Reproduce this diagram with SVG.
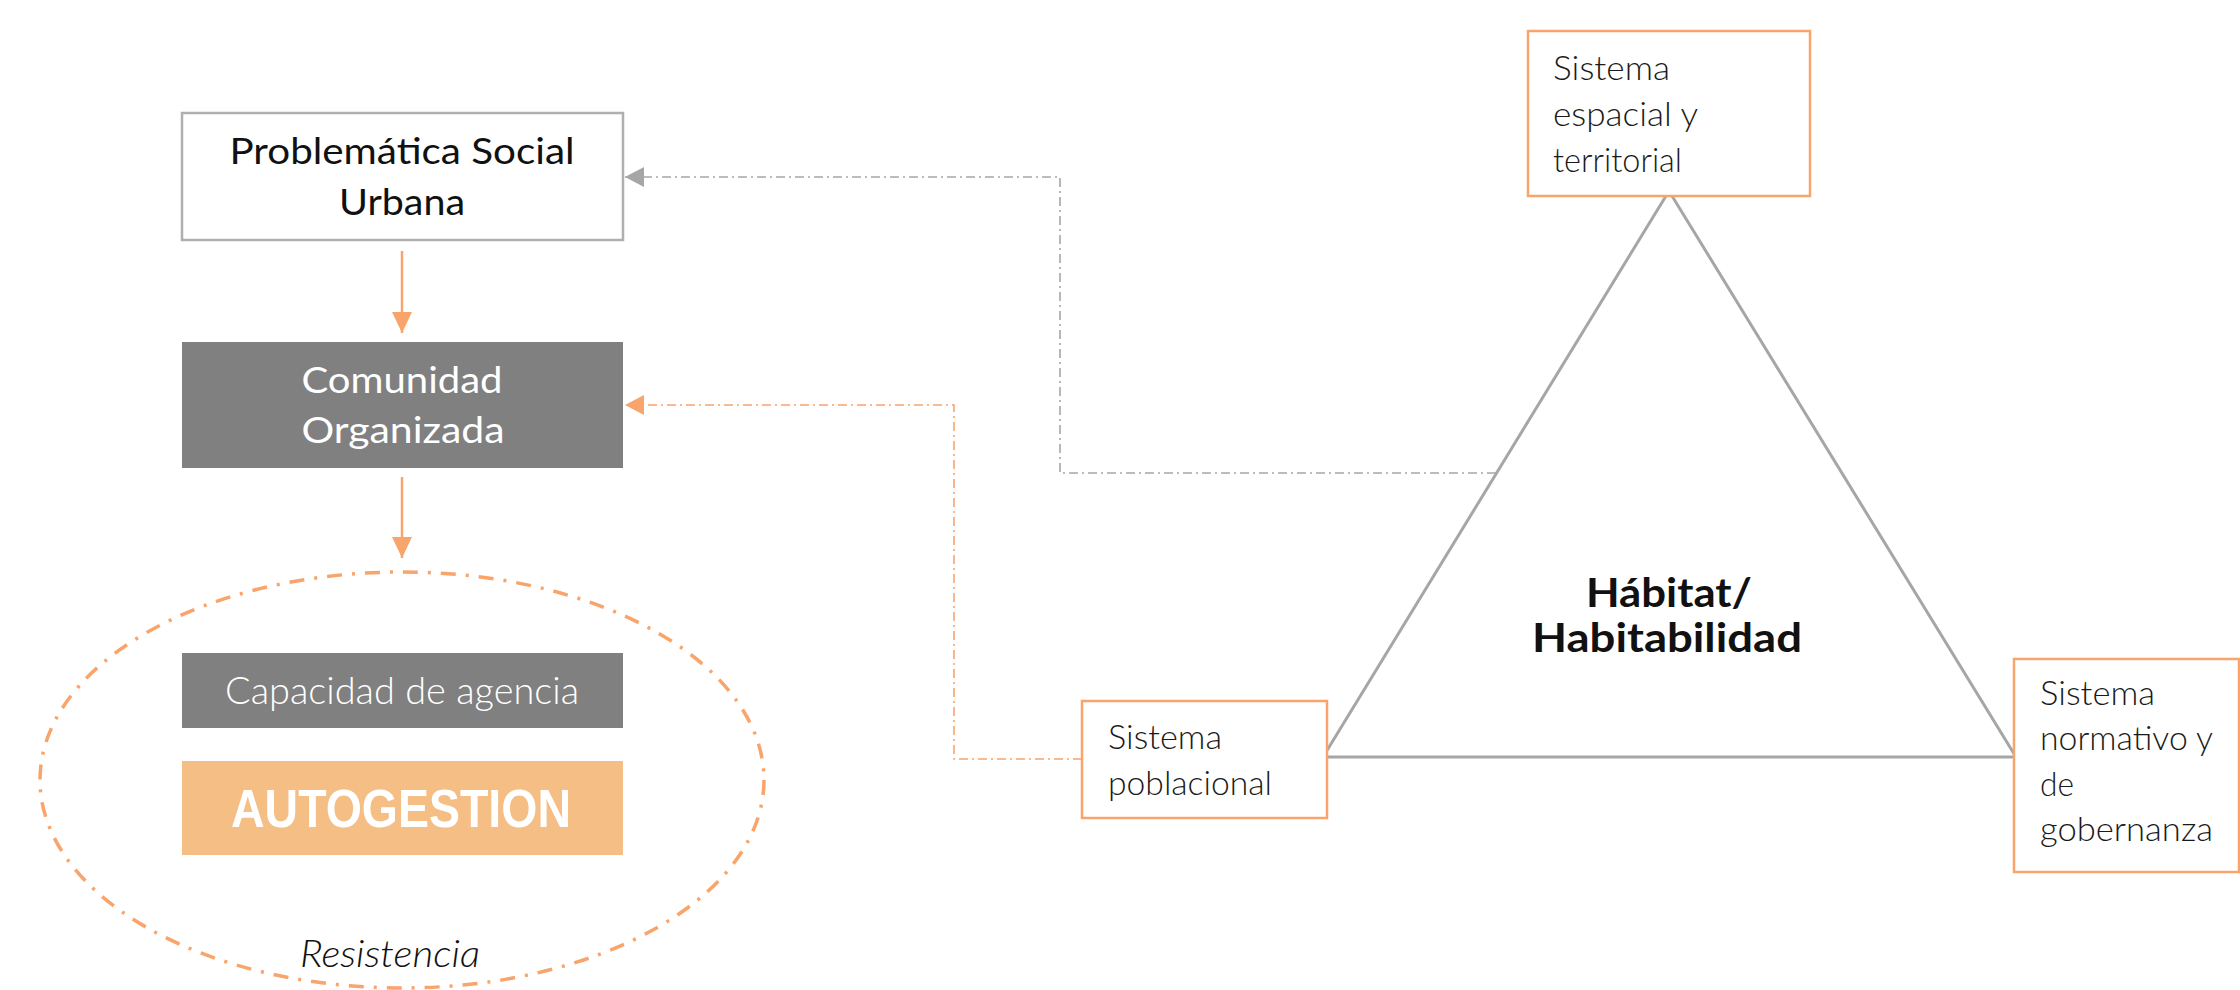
<svg xmlns="http://www.w3.org/2000/svg" width="2240" height="990" viewBox="0 0 2240 990">
<style>
.t{font-family:Lato,"Open Sans","Liberation Sans",sans-serif}
.dark{fill:#111}
.lt{font-weight:300;font-size:33px;fill:#1a1a1a}
.obox{fill:#fff;stroke:#F8A46B;stroke-width:2.5}
.conn{fill:none;stroke-width:1.6;stroke-dasharray:9 4 2 4}
</style>
<defs>
<marker id="arrO" markerUnits="userSpaceOnUse" markerWidth="22" markerHeight="22" refX="21" refY="10" orient="auto"><path d="M0,0 L21,10 L0,20 z" fill="#F8A46B"/></marker>
<marker id="arrG" markerUnits="userSpaceOnUse" markerWidth="22" markerHeight="22" refX="19" refY="10" orient="auto"><path d="M0,0 L19,10 L0,20 z" fill="#A6A6A6"/></marker>
<marker id="arrO2" markerUnits="userSpaceOnUse" markerWidth="22" markerHeight="22" refX="19" refY="10" orient="auto"><path d="M0,0 L19,10 L0,20 z" fill="#F8A46B"/></marker>
</defs>
<rect width="2240" height="990" fill="#fff"/>

<g id="connectors">
<line x1="402" y1="251" x2="402" y2="333" stroke="#F8A46B" stroke-width="2.5" marker-end="url(#arrO)"/>
<line x1="402" y1="477" x2="402" y2="558" stroke="#F8A46B" stroke-width="2.5" marker-end="url(#arrO)"/>
<path class="conn" d="M1496,473 H1060 V177 H625" stroke="#A6A6A6" marker-end="url(#arrG)"/>
<path class="conn" d="M1082,759 H954 V405 H625" stroke="#F8A46B" marker-end="url(#arrO2)"/>
</g>

<g id="problematica">
<rect x="182" y="113" width="441" height="127" fill="#fff" stroke="#AFAFAF" stroke-width="2.5"/>
<text class="t dark" x="402" y="164" font-size="37" text-anchor="middle" textLength="345" lengthAdjust="spacingAndGlyphs">Problemática Social</text>
<text class="t dark" x="402" y="215" font-size="37" text-anchor="middle" textLength="126" lengthAdjust="spacingAndGlyphs">Urbana</text>
</g>

<g id="comunidad">
<rect x="182" y="342" width="441" height="126" fill="#808080"/>
<text class="t" x="402" y="393" font-size="37" fill="#fff" text-anchor="middle" textLength="201" lengthAdjust="spacingAndGlyphs">Comunidad</text>
<text class="t" x="403" y="443" font-size="37" fill="#fff" text-anchor="middle" textLength="203" lengthAdjust="spacingAndGlyphs">Organizada</text>
</g>

<g id="resistencia">
<ellipse cx="402" cy="780" rx="362" ry="208" fill="none" stroke="#F8A46B" stroke-width="3.5" stroke-dasharray="15 10 3 10"/>
<text class="t" x="390" y="967" font-size="37" font-style="italic" font-weight="300" fill="#111" text-anchor="middle" textLength="180" lengthAdjust="spacingAndGlyphs">Resistencia</text>
</g>

<g id="capacidad">
<rect x="182" y="653" width="441" height="75" fill="#808080"/>
<text class="t" x="402" y="704" font-size="37" font-weight="300" fill="#fff" text-anchor="middle" textLength="354" lengthAdjust="spacingAndGlyphs">Capacidad de agencia</text>
</g>

<g id="autogestion">
<rect x="182" y="761" width="441" height="94" fill="#F4BE85"/>
<text x="401" y="827" font-family="'Liberation Sans',Arial,sans-serif" font-weight="bold" font-size="54" fill="#fff" text-anchor="middle" textLength="340" lengthAdjust="spacingAndGlyphs">AUTOGESTION</text>
</g>

<g id="habitat">
<polygon points="1669,191 1323,757 2016,757" fill="none" stroke="#A6A6A6" stroke-width="3"/>
<text class="t dark" x="1669" y="607" font-size="40" font-weight="bold" text-anchor="middle" textLength="166" lengthAdjust="spacingAndGlyphs">Hábitat/</text>
<text class="t dark" x="1667" y="652" font-size="40" font-weight="bold" text-anchor="middle" textLength="270" lengthAdjust="spacingAndGlyphs">Habitabilidad</text>
</g>

<g id="espacial">
<rect class="obox" x="1528" y="31" width="282" height="165"/>
<text class="t lt" x="1553" y="80" textLength="117" lengthAdjust="spacingAndGlyphs">Sistema</text>
<text class="t lt" x="1553" y="126" textLength="145" lengthAdjust="spacingAndGlyphs">espacial y</text>
<text class="t lt" x="1553" y="172" textLength="129" lengthAdjust="spacingAndGlyphs">territorial</text>
</g>

<g id="poblacional">
<rect class="obox" x="1082" y="701" width="245" height="117"/>
<text class="t lt" x="1108" y="749" textLength="114" lengthAdjust="spacingAndGlyphs">Sistema</text>
<text class="t lt" x="1108" y="795" textLength="164" lengthAdjust="spacingAndGlyphs">poblacional</text>
</g>

<g id="normativo">
<rect class="obox" x="2014" y="659" width="225" height="213"/>
<text class="t lt" x="2040" y="705" textLength="115" lengthAdjust="spacingAndGlyphs">Sistema</text>
<text class="t lt" x="2040" y="750" textLength="173" lengthAdjust="spacingAndGlyphs">normativo y</text>
<text class="t lt" x="2040" y="796" textLength="34" lengthAdjust="spacingAndGlyphs">de</text>
<text class="t lt" x="2040" y="841" textLength="173" lengthAdjust="spacingAndGlyphs">gobernanza</text>
</g>
</svg>
